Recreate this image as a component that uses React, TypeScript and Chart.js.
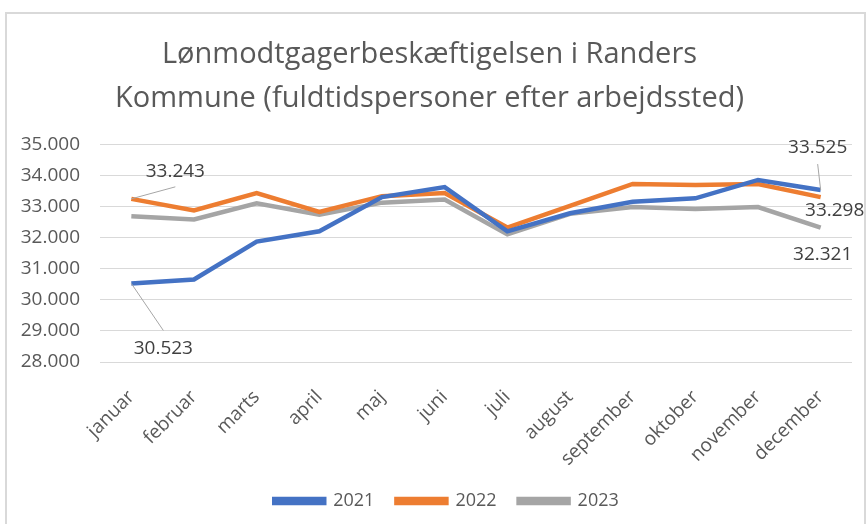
import React, { useEffect, useRef } from "react";
import { Chart, registerables } from "chart.js";

Chart.register(...registerables);

const months = ["januar", "februar", "marts", "april", "maj", "juni", "juli", "august", "september", "oktober", "november", "december"];
const series2021 = [30523, 30650, 31870, 32200, 33300, 33620, 32200, 32780, 33150, 33260, 33850, 33525];
const series2022 = [33243, 32870, 33430, 32820, 33330, 33430, 32320, 33020, 33720, 33690, 33720, 33298];
const series2023 = [32680, 32580, 33100, 32730, 33120, 33220, 32100, 32760, 32980, 32920, 32980, 32321];
const yearLabels = ["2021", "2022", "2023"];

const fmt = (v: number) => String(Math.round(v)).replace(/\B(?=(\d{3})+(?!\d))/g, ".");

const FONT = "'Open Sans', sans-serif";
const TEXT = "#595959";

// annotated points: dataset, index, label offset, optional leader end offset
const annotations = [
  { ds: 1, i: 0, dx: 44, dy: -27, lead: [44, -12] },
  { ds: 0, i: 0, dx: 32, dy: 65, lead: [32, 47] },
  { ds: 0, i: 11, dx: -3, dy: -42, lead: [-3, -26] },
  { ds: 1, i: 11, dx: 14, dy: 13, lead: null },
  { ds: 2, i: 11, dx: 2, dy: 27, lead: null },
];

const labelPlugin = {
  id: "pointLabels",
  afterLayout(chart: any) {
    // nudge the legend so it is centred like the reference
    if (chart.legend) {
      chart.legend.left += 17;
      chart.legend.right += 17;
    }
  },
  afterDatasetsDraw(chart: any) {
    const ctx = chart.ctx;
    ctx.save();
    for (const a of annotations) {
      const meta = chart.getDatasetMeta(a.ds);
      const pt = meta.data[a.i];
      if (!pt) continue;
      const v = chart.data.datasets[a.ds].data[a.i] as number;
      if (a.lead) {
        ctx.strokeStyle = "#a6a6a6";
        ctx.lineWidth = 1;
        ctx.beginPath();
        ctx.moveTo(pt.x, pt.y);
        ctx.lineTo(pt.x + a.lead[0], pt.y + a.lead[1]);
        ctx.stroke();
      }
      ctx.fillStyle = "#404040";
      ctx.font = `19px ${FONT}`;
      ctx.textAlign = "center";
      ctx.textBaseline = "middle";
      ctx.fillText(fmt(v), pt.x + a.dx, pt.y + a.dy);
    }
    ctx.restore();
  },
};

export default function App() {
  const ref = useRef<HTMLCanvasElement>(null);
  useEffect(() => {
    const chart = new Chart(ref.current as HTMLCanvasElement, {
      type: "line",
      data: {
        labels: months,
        datasets: [
          { label: yearLabels[0], data: series2021, borderColor: "#4472C4", backgroundColor: "#4472C4", borderWidth: 4.5, pointRadius: 0, tension: 0 },
          { label: yearLabels[1], data: series2022, borderColor: "#ED7D31", backgroundColor: "#ED7D31", borderWidth: 4.5, pointRadius: 0, tension: 0 },
          { label: yearLabels[2], data: series2023, borderColor: "#A5A5A5", backgroundColor: "#A5A5A5", borderWidth: 4.5, pointRadius: 0, tension: 0 },
        ],
      },
      options: {
        animation: false,
        responsive: false,
        maintainAspectRatio: false,
        layout: { padding: { left: 7, right: 14, top: 22, bottom: 4 } },
        plugins: {
          title: {
            display: true,
            text: ["Lønmodtgagerbeskæftigelsen i Randers", "Kommune (fuldtidspersoner efter arbejdssted)"],
            color: TEXT,
            font: { family: FONT, size: 29, weight: "normal", lineHeight: 1.52 },
            padding: { top: 11, bottom: 23 },
          },
          legend: {
            position: "bottom",
            labels: {
              color: TEXT,
              font: { family: FONT, size: 18 },
              boxWidth: 50,
              boxHeight: 4,
              padding: 22,
            },
          },
          tooltip: { enabled: false },
        },
        scales: {
          x: {
            offset: true,
            grid: { display: false, drawTicks: false },
            border: { display: false },
            ticks: { color: TEXT, font: { family: FONT, size: 19 }, maxRotation: 45, minRotation: 45, padding: 24, autoSkip: false },
            afterFit: (scale: any) => { scale.height = 108; },
          },
          y: {
            min: 28000,
            max: 35000,
            grid: { color: "#d9d9d9", lineWidth: 1, drawTicks: false },
            border: { display: false },
            ticks: { stepSize: 1000, color: TEXT, font: { family: FONT, size: 19 }, padding: 20, callback: (v: any) => fmt(Number(v)) },
            afterFit: (scale: any) => { scale.width = 93; },
          },
        },
      },
      plugins: [labelPlugin],
    });
    return () => chart.destroy();
  }, []);
  return (
    <div style={{ position: "fixed", left: 0, top: 0, width: 866, height: 524, background: "#fff", overflow: "hidden" }}>
      <div style={{ position: "absolute", left: 5, top: 12, width: 857, height: 530, border: "2px solid #d9d9d9", borderBottom: "none" }} />
      <canvas ref={ref} width={866} height={524} style={{ position: "absolute", left: 0, top: 0, width: 866, height: 524 }} />
    </div>
  );
}
